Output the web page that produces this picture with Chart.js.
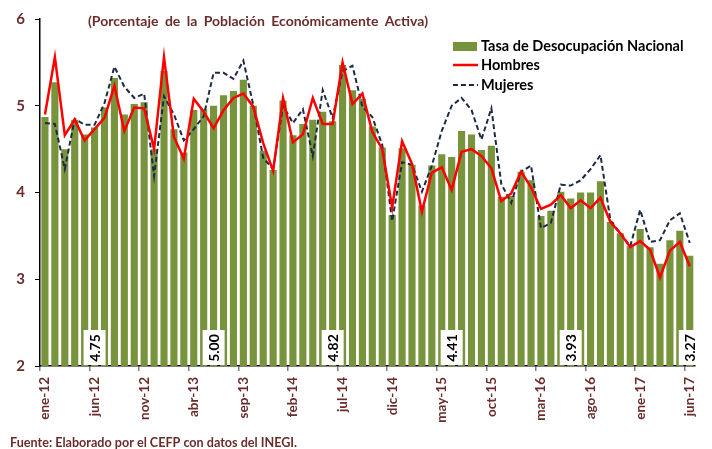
<!DOCTYPE html>
<html>
<head>
<meta charset="utf-8">
<script src="https://cdn.jsdelivr.net/npm/chart.js@4.4.0/dist/chart.umd.min.js"></script>
<style>
  html, body { margin: 0; padding: 0; background: #fff; }
  canvas { display: block; }
</style>
</head>
<body>
<canvas id="chart" width="712" height="449"></canvas>
<script>
'use strict'

// meses ene-12 .. jun-17
const months = ['ene', 'feb', 'mar', 'abr', 'may', 'jun', 'jul', 'ago', 'sep', 'oct', 'nov', 'dic'];
const years = ['12', '13', '14', '15', '16', '17'];
const labels = [];
for (const yr of years) {
  for (const m of months) {
    labels.push(m + '-' + yr);
    if (m + '-' + yr === 'jun-17') break;
  }
}

const tasa = [
  4.87, 5.27, 4.50, 4.84, 4.67, 4.75, 4.98, 5.32, 4.90, 5.02, 5.04, 4.50,
  5.40, 4.73, 4.46, 4.95, 4.96, 5.00, 5.12, 5.17, 5.30, 5.00, 4.48, 4.26,
  5.06, 4.66, 4.79, 4.84, 4.93, 4.82, 5.47, 5.18, 5.08, 4.76, 4.52, 3.74,
  4.51, 4.32, 3.85, 4.31, 4.44, 4.41, 4.71, 4.67, 4.49, 4.54, 3.95, 3.96,
  4.24, 4.14, 3.73, 3.79, 4.01, 3.93, 4.00, 4.00, 4.13, 3.66, 3.53, 3.38,
  3.58, 3.37, 3.18, 3.45, 3.56, 3.27
];
const hombres = [
  4.90, 5.56, 4.66, 4.84, 4.60, 4.73, 4.86, 5.23, 4.71, 4.98, 4.97, 4.50,
  5.56, 4.64, 4.39, 5.08, 4.93, 4.74, 4.95, 5.09, 5.14, 4.99, 4.57, 4.25,
  5.09, 4.58, 4.67, 5.09, 4.79, 4.79, 5.50, 5.02, 5.14, 4.70, 4.50, 3.83,
  4.59, 4.33, 3.78, 4.23, 4.29, 4.03, 4.47, 4.50, 4.42, 4.28, 3.90, 3.99,
  4.24, 4.06, 3.81, 3.86, 3.97, 3.82, 3.91, 3.82, 3.94, 3.66, 3.53, 3.37,
  3.44, 3.34, 3.02, 3.33, 3.43, 3.15
];
const mujeres = [
  4.80, 4.79, 4.27, 4.85, 4.78, 4.78, 5.03, 5.45, 5.22, 5.09, 5.14, 4.19,
  5.11, 4.90, 4.60, 4.73, 4.88, 5.38, 5.38, 5.31, 5.52, 5.01, 4.40, 4.27,
  5.00, 4.80, 4.96, 4.42, 5.18, 4.86, 5.40, 5.46, 4.99, 4.87, 4.55, 3.67,
  4.35, 4.32, 4.01, 4.31, 4.71, 5.00, 5.09, 4.95, 4.61, 4.97, 4.10, 3.88,
  4.24, 4.31, 3.59, 3.65, 4.09, 4.08, 4.14, 4.27, 4.43, 3.68, 3.53, 3.38,
  3.80, 3.43, 3.45, 3.68, 3.76, 3.42
];
const boxLabels = ['jun-12', 'jun-13', 'jun-14', 'jun-15', 'jun-16', 'jun-17'];
const yTicks = [2, 3, 4, 5, 6];

const maroon = '#6b2c2c';
const fontFam = 'Lato, "Open Sans", sans-serif';
const green = '#77933c';
const navy = '#1c2b45';

const extras = {
  id: 'extras',
  afterDraw(chart) {
    const ctx = chart.ctx;
    const xs = chart.scales.x;
    const ys = chart.scales.y;
    ctx.save();

    // etiquetas de junio
    ctx.font = 'bold 14px ' + fontFam;
    for (const lab of boxLabels) {
      const i = labels.indexOf(lab);
      const cx = xs.getPixelForValue(i);
      const base = ys.getPixelForValue(yTicks[0]);
      ctx.fillStyle = '#fff';
      ctx.fillRect(cx - 11, base - 36, 22, 35);
      ctx.save();
      ctx.translate(cx, base - 18);
      ctx.rotate(-Math.PI / 2);
      ctx.fillStyle = '#000';
      ctx.textAlign = 'center';
      ctx.textBaseline = 'middle';
      ctx.fillText(tasa[i].toFixed(2), 0, 1);
      ctx.restore();
    }

    // titulo
    ctx.fillStyle = maroon;
    ctx.font = 'bold 14px ' + fontFam;
    ctx.textAlign = 'left';
    ctx.textBaseline = 'middle';
    ctx.wordSpacing = '3px';
    ctx.fillText('(Porcentaje de la Población Económicamente Activa)', 88, 21);
    ctx.wordSpacing = '0px';

    // leyenda
    ctx.fillStyle = green;
    ctx.fillRect(453, 42, 24, 9);
    ctx.strokeStyle = '#ff0000';
    ctx.lineWidth = 2.5;
    ctx.beginPath(); ctx.moveTo(453, 65); ctx.lineTo(478, 65); ctx.stroke();
    ctx.strokeStyle = navy;
    ctx.lineWidth = 2;
    ctx.setLineDash([5, 3]);
    ctx.beginPath(); ctx.moveTo(453, 85); ctx.lineTo(478, 85); ctx.stroke();
    ctx.setLineDash([]);
    ctx.fillStyle = '#000';
    ctx.font = 'bold 14.5px ' + fontFam;
    ctx.fillText('Tasa de Desocupación Nacional', 481, 46);
    ctx.fillText('Hombres', 481, 65);
    ctx.fillText('Mujeres', 481, 85);

    // fuente
    ctx.fillStyle = maroon;
    ctx.font = 'bold 12.6px ' + fontFam;
    ctx.fillText('Fuente: Elaborado por el CEFP con datos del INEGI.', 10, 443);
    ctx.restore();
  }
};

new Chart(document.getElementById('chart'), {
  data: {
    labels: labels,
    datasets: [
      {
        type: 'line',
        label: 'Hombres',
        data: hombres,
        borderColor: '#ff0000',
        borderWidth: 2.5,
        pointRadius: 0,
        tension: 0,
        order: 1
      },
      {
        type: 'line',
        label: 'Mujeres',
        data: mujeres,
        borderColor: navy,
        borderWidth: 2,
        borderDash: [5, 3],
        pointRadius: 0,
        tension: 0,
        order: 2
      },
      {
        type: 'bar',
        label: 'Tasa de Desocupación Nacional',
        data: tasa,
        backgroundColor: green,
        barPercentage: 0.72,
        categoryPercentage: 1,
        order: 3
      }
    ]
  },
  options: {
    responsive: false,
    animation: false,
    layout: { padding: { left: 0, top: 15, right: 6, bottom: 0 } },
    plugins: {
      legend: { display: false },
      tooltip: { enabled: false },
      title: { display: false }
    },
    scales: {
      x: {
        offset: true,
        afterFit: (s) => { s.height = 83; },
        ticks: {
          autoSkip: false,
          maxRotation: 90,
          minRotation: 90,
          padding: 6,
          color: maroon,
          font: { family: fontFam, size: 13.5, weight: 'bold' },
          callback: (v, i) => (i % 5 === 0 ? labels[i] : '')
        },
        grid: {
          offset: true,
          drawOnChartArea: false,
          tickLength: 5,
          lineWidth: 1.5,
          color: (c) => (c.index % 5 === 0 ? '#808080' : 'transparent')
        },
        border: { color: '#000', width: 1.5 }
      },
      y: {
        min: yTicks[0],
        max: yTicks[yTicks.length - 1],
        afterFit: (s) => { s.width = 40; },
        ticks: {
          stepSize: 1,
          padding: 10,
          color: maroon,
          font: { family: fontFam, size: 15, weight: 'bold' }
        },
        grid: {
          drawOnChartArea: false,
          tickLength: 5,
          color: '#000'
        },
        border: { color: '#000', width: 1.5 }
      }
    }
  },
  plugins: [extras]
});
</script>
</body>
</html>
